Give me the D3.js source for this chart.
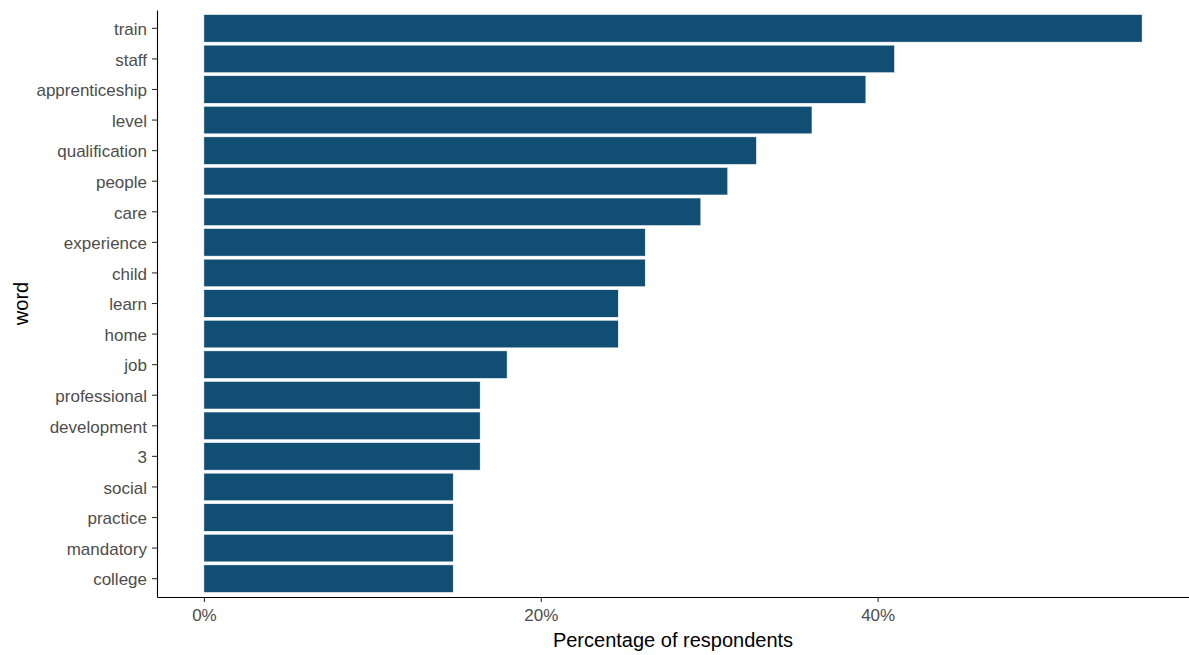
<!DOCTYPE html>
<html>
<head>
<meta charset="utf-8">
<script src="https://cdn.jsdelivr.net/npm/d3@7"></script>
<style>
  body { margin: 0; background: #fff; }
  text { font-family: "Liberation Sans", Arial, sans-serif; }
</style>
</head>
<body>
<div id="chart"></div>
<script>
// words, top to bottom
const words = ['train', 'staff', 'apprenticeship', 'level', 'qualification', 'people', 'care',
    'experience', 'child', 'learn', 'home', 'job', 'professional', 'development', '3',
    'social', 'practice', 'mandatory', 'college'];
// percentage of respondents
const percents = [55.7, 41.0, 39.3, 36.1, 32.8, 31.1, 29.5,
    26.2, 26.2, 24.6, 24.6, 18.0, 16.4, 16.4, 16.4,
    14.8, 14.8, 14.8, 14.8];
const xTicks = [0, 20, 40];

const width = 1189;
const height = 655;
const margin = { top: 10, right: 0, bottom: 58, left: 157 };

const data = words.map((w, i) => ({ word: w, value: percents[i] }));

const svg = d3.select('#chart')
    .append('svg')
    .attr('width', width)
    .attr('height', height);

// x scale with ggplot-like 5% expansion
const maxVal = d3.max(percents);
const pad = maxVal * 0.05;
const x = d3.scaleLinear()
    .domain([-pad, maxVal + pad])
    .range([margin.left, width - margin.right]);

const y = d3.scaleBand()
    .domain(words)
    .range([margin.top, height - margin.bottom])
    .paddingInner(0.1)
    .paddingOuter(0.15);

// bars
svg.append('g')
    .selectAll('rect')
    .data(data)
    .join('rect')
    .attr('x', x(0))
    .attr('y', d => y(d.word))
    .attr('width', d => x(d.value) - x(0))
    .attr('height', y.bandwidth())
    .attr('fill', '#114e74')
    .attr('stroke', '#ffffff')
    .attr('stroke-width', 0.5);

// x axis
const xAxis = svg.append('g')
    .attr('transform', `translate(0,${height - margin.bottom})`)
    .call(d3.axisBottom(x).tickValues(xTicks).tickFormat(d => d + '%').tickSize(5).tickPadding(7).tickSizeOuter(0));

// y axis
const yAxis = svg.append('g')
    .attr('transform', `translate(${margin.left},0)`)
    .call(d3.axisLeft(y).tickSize(5).tickPadding(5).tickSizeOuter(0));

[xAxis, yAxis].forEach(ax => {
    ax.select('.domain').attr('stroke', '#000').attr('stroke-width', 1.1);
    ax.selectAll('.tick line').attr('stroke', '#333').attr('stroke-width', 1.1);
    ax.selectAll('.tick text')
        .attr('fill', '#4d4d4d')
        .attr('font-size', '17px')
        .attr('font-family', '"Liberation Sans", Arial, sans-serif');
});
yAxis.selectAll('.tick text').attr('dy', '0.4em');

// axis titles
svg.append('text')
    .attr('x', (margin.left + width - margin.right) / 2)
    .attr('y', 647)
    .attr('text-anchor', 'middle')
    .attr('font-size', '20px')
    .attr('fill', '#000')
    .text('Percentage of respondents');

svg.append('text')
    .attr('transform', `translate(28,${(margin.top + height - margin.bottom) / 2}) rotate(-90)`)
    .attr('text-anchor', 'middle')
    .attr('font-size', '20px')
    .attr('fill', '#000')
    .text('word');
</script>
</body>
</html>
